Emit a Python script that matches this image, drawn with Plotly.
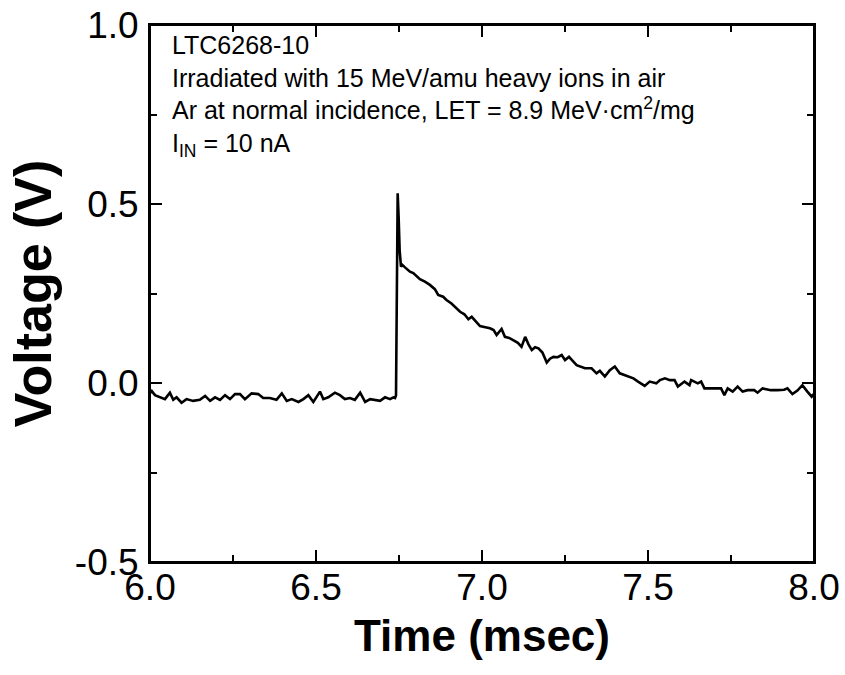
import plotly.graph_objects as go

time_ms = [
    6.000, 6.003, 6.015, 6.030, 6.045, 6.060, 6.070, 6.080, 6.095, 6.110, 6.130, 6.150,
    6.166, 6.181, 6.196, 6.211, 6.226, 6.241, 6.256, 6.271, 6.286, 6.306, 6.326, 6.341,
    6.361, 6.381, 6.397, 6.412, 6.427, 6.447, 6.462, 6.477, 6.492, 6.512, 6.522, 6.537,
    6.557, 6.572, 6.587, 6.602, 6.617, 6.633, 6.648, 6.663, 6.678, 6.693, 6.708, 6.723,
    6.733, 6.738, 6.741, 6.743, 6.746, 6.749, 6.752, 6.756, 6.760, 6.768, 6.783, 6.793,
    6.813, 6.828, 6.843, 6.858, 6.868, 6.883, 6.893, 6.908, 6.920, 6.934, 6.947, 6.959,
    6.969, 6.982, 6.994, 7.010, 7.024, 7.035, 7.044, 7.059, 7.069, 7.082, 7.094, 7.108,
    7.119, 7.130, 7.140, 7.150, 7.160, 7.170, 7.182, 7.195, 7.205, 7.215, 7.228, 7.240,
    7.250, 7.262, 7.285, 7.300, 7.310, 7.330, 7.345, 7.355, 7.370, 7.385, 7.400, 7.415,
    7.436, 7.456, 7.470, 7.490, 7.505, 7.525, 7.536, 7.551, 7.566, 7.580, 7.590, 7.610,
    7.625, 7.630, 7.650, 7.660, 7.670, 7.705, 7.720, 7.730, 7.740, 7.755, 7.770, 7.785,
    7.800, 7.820, 7.830, 7.845, 7.870, 7.890, 7.910, 7.920, 7.935, 7.950, 7.965, 7.980,
    7.993, 8.000,
]
voltage_v = [
    -0.030, -0.020, -0.034, -0.040, -0.045, -0.027, -0.047, -0.040, -0.055, -0.045, -0.050, -0.047,
    -0.036, -0.050, -0.040, -0.047, -0.034, -0.045, -0.031, -0.031, -0.045, -0.029, -0.031, -0.042,
    -0.042, -0.047, -0.029, -0.050, -0.045, -0.053, -0.045, -0.034, -0.053, -0.024, -0.045, -0.040,
    -0.027, -0.034, -0.045, -0.042, -0.047, -0.027, -0.053, -0.045, -0.047, -0.050, -0.040, -0.045,
    -0.040, -0.042, -0.035, 0.250, 0.530, 0.460, 0.370, 0.325, 0.330, 0.323, 0.311, 0.307,
    0.290, 0.283, 0.274, 0.262, 0.246, 0.241, 0.232, 0.222, 0.212, 0.199, 0.192, 0.178,
    0.185, 0.170, 0.159, 0.156, 0.153, 0.148, 0.134, 0.151, 0.129, 0.126, 0.120, 0.112,
    0.101, 0.129, 0.108, 0.092, 0.100, 0.097, 0.085, 0.057, 0.068, 0.073, 0.072, 0.078,
    0.064, 0.073, 0.050, 0.045, 0.041, 0.041, 0.027, 0.034, 0.018, 0.036, 0.046, 0.027,
    0.020, 0.013, 0.004, -0.008, 0.004, -0.001, 0.008, 0.013, 0.008, 0.008, -0.010, 0.004,
    -0.006, 0.008, -0.001, 0.004, -0.015, -0.015, -0.015, -0.034, -0.015, -0.024, -0.010, -0.024,
    -0.020, -0.020, -0.027, -0.015, -0.020, -0.020, -0.019, -0.015, -0.031, -0.021, -0.006, -0.024,
    -0.038, -0.030,
]

x_ticks = [6.0, 6.5, 7.0, 7.5, 8.0]
x_tick_labels = ["6.0", "6.5", "7.0", "7.5", "8.0"]
y_ticks = [-0.5, 0.0, 0.5, 1.0]
y_tick_labels = ["-0.5", "0.0", "0.5", "1.0"]

note_lines = [
    "LTC6268-10",
    "Irradiated with 15 MeV/amu heavy ions in air",
    "Ar at normal incidence, LET = 8.9 MeV·cm<sup>2</sup>/mg",
    "I<sub>IN</sub> = 10 nA",
]

FONT = "Liberation Sans, Arial, sans-serif"

fig = go.Figure()
fig.add_trace(go.Scatter(
    x=time_ms, y=voltage_v, mode="lines",
    line=dict(color="black", width=2.6), showlegend=False, hoverinfo="skip",
))

tick_style = dict(
    showline=True, linecolor="black", linewidth=2, mirror="ticks",
    ticks="inside", ticklen=12, tickwidth=2, tickcolor="black",
    showgrid=False, zeroline=False, automargin=False,
    ticklabeloverflow="allow",
    tickfont=dict(family=FONT, size=37, color="black"),
)
minor_style = dict(ticks="inside", ticklen=7, tickwidth=2, tickcolor="black", dtick=0.25, showgrid=False)

fig.update_xaxes(
    range=[6.0, 8.0], tickvals=x_ticks, ticktext=x_tick_labels,
    ticklabelstandoff=-8, minor=minor_style,
    title=dict(text="<b>Time (msec)</b>", font=dict(family=FONT, size=44, color="black"), standoff=13),
    **tick_style,
)
fig.update_yaxes(
    range=[-0.5, 1.0], tickvals=y_ticks, ticktext=y_tick_labels,
    ticklabelstandoff=2, minor=minor_style,
    title=dict(text="<b>Voltage (V)</b>", font=dict(family=FONT, size=52, color="black"), standoff=7),
    **tick_style,
)

fig.add_shape(
    type="rect", xref="paper", yref="paper", x0=0, x1=1, y0=0, y1=1,
    line=dict(color="black", width=2), fillcolor="rgba(0,0,0,0)", layer="above",
)

fig.add_annotation(
    x=0, y=1, xref="paper", yref="paper", xanchor="left", yanchor="top",
    xshift=20, yshift=-4, showarrow=False, align="left",
    text="<br>".join(note_lines),
    font=dict(family=FONT, size=25, color="black"),
)

fig.update_layout(
    width=845, height=675,
    margin=dict(l=150, r=31, t=25, b=113),
    paper_bgcolor="white", plot_bgcolor="white",
)

# remove the browser's default 8 px page margin so the figure fills the window exactly
fig.write_html(
    "out.html",
    config={"displayModeBar": False},
    post_script="document.body.style.margin='0';document.body.style.overflow='hidden';",
)
